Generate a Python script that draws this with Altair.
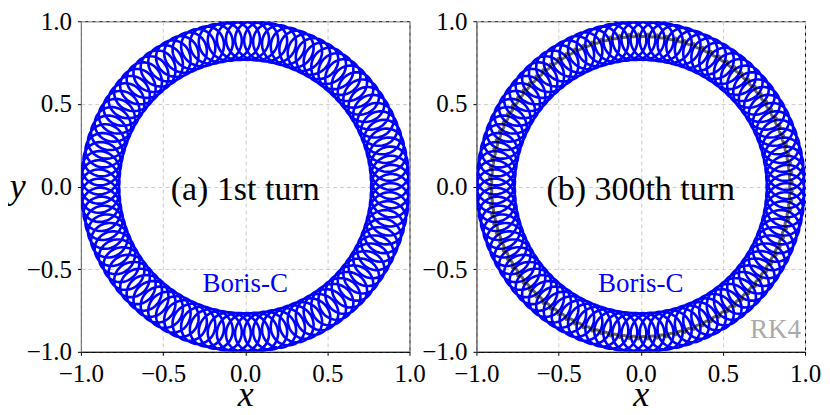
import numpy as np
import pandas as pd
import altair as alt

alt.data_transformers.disable_max_rows()

# ---- values ----
boris_center_radius = 0.883   # guiding-centre circle of the Boris-C orbit
boris_gyro_radius = 0.117     # gyro-radius of the Boris-C loops
rk4_center_radius = 0.915     # guiding-centre circle of the RK4 orbit
rk4_gyro_radius = 0.008       # residual gyro-radius of RK4 (small wiggles)
loops_per_turn = 100          # gyrations counted along one turn
samples_per_loop = 48

tick_values = [-1.0, -0.5, 0.0, 0.5, 1.0]
panel_titles = ["(a) 1st turn", "(b) 300th turn"]
series_labels = ["Boris-C", "RK4"]


def orbit(rc, rho, n_loops, spl):
    t = np.linspace(0.0, 2.0 * np.pi, n_loops * spl + 1)
    x = rc * np.cos(t) + rho * np.cos(-n_loops * t + np.pi)
    y = rc * np.sin(t) + rho * np.sin(-n_loops * t + np.pi)
    return pd.DataFrame({"i": np.arange(len(t)), "x": x, "y": y})


boris = orbit(boris_center_radius, boris_gyro_radius, loops_per_turn, samples_per_loop)
rk4 = orbit(rk4_center_radius, rk4_gyro_radius, loops_per_turn, samples_per_loop)

SERIF = "Liberation Serif"
scale = alt.Scale(domain=[-1, 1], nice=False, zero=False)
one_row = pd.DataFrame({"k": [0]})


def label(text, x, y, size, color, dy=0):
    return (
        alt.Chart(one_row)
        .mark_text(font=SERIF, fontSize=size, color=color,
                   align="center", baseline="middle", dy=dy)
        .encode(x=alt.datum(x), y=alt.datum(y), text=alt.value(text))
    )


def panel(title, with_rk4, y_title):
    xenc = alt.X("x:Q", scale=scale,
                 axis=alt.Axis(values=tick_values, format=".1f"), title="x")
    if y_title:
        yenc = alt.Y("y:Q", scale=scale,
                     axis=alt.Axis(values=tick_values, format=".1f"), title="y")
    else:
        yenc = alt.Y("y:Q", scale=scale,
                     axis=alt.Axis(values=tick_values, format=".1f"), title=None)
    layers = [
        alt.Chart(boris).mark_line(color="#0000ff", strokeWidth=2.6, clip=True)
        .encode(x=xenc, y=yenc, order="i:Q")
    ]
    if with_rk4:
        layers.append(
            alt.Chart(rk4).mark_line(color="#000000", opacity=0.6, strokeWidth=3, clip=True)
            .encode(x=xenc, y=yenc, order="i:Q")
        )
    layers.append(label(title, 0.0, 0.0, 34, "black", dy=3))
    layers.append(label(series_labels[0], 0.0, -0.59, 27, "#0000ff"))
    if with_rk4:
        layers.append(label(series_labels[1], 0.82, -0.87, 27, "#aaaaaa"))
    return alt.layer(*layers).properties(width=329, height=331)


chart = alt.hconcat(
    panel(panel_titles[0], False, True),
    panel(panel_titles[1], True, False),
    spacing=-6,
).properties(
    padding={"left": 0, "top": 0, "right": 0, "bottom": -8.5}
).configure_view(
    stroke="black", strokeWidth=1
).configure_axis(
    labelFont=SERIF, labelFontSize=25, labelColor="black",
    labelFlush=False, labelOverlap=False, labelPadding=6,
    tickColor="black", tickSize=3.5, tickWidth=1,
    grid=True, gridColor="#cccccc", gridDash=[4, 3], gridWidth=1,
    domainColor="black",
    titleFont=SERIF, titleFontSize=36, titleFontStyle="italic",
    titleFontWeight="normal", titleColor="black",
).configure_axisY(
    titleAngle=0, titleAlign="center", titleBaseline="middle", titlePadding=9,
    domainColor="#777777",
).configure_axisX(
    titlePadding=-8.5,
)

chart.save("out.html", embed_options={"renderer": "svg", "actions": False})
